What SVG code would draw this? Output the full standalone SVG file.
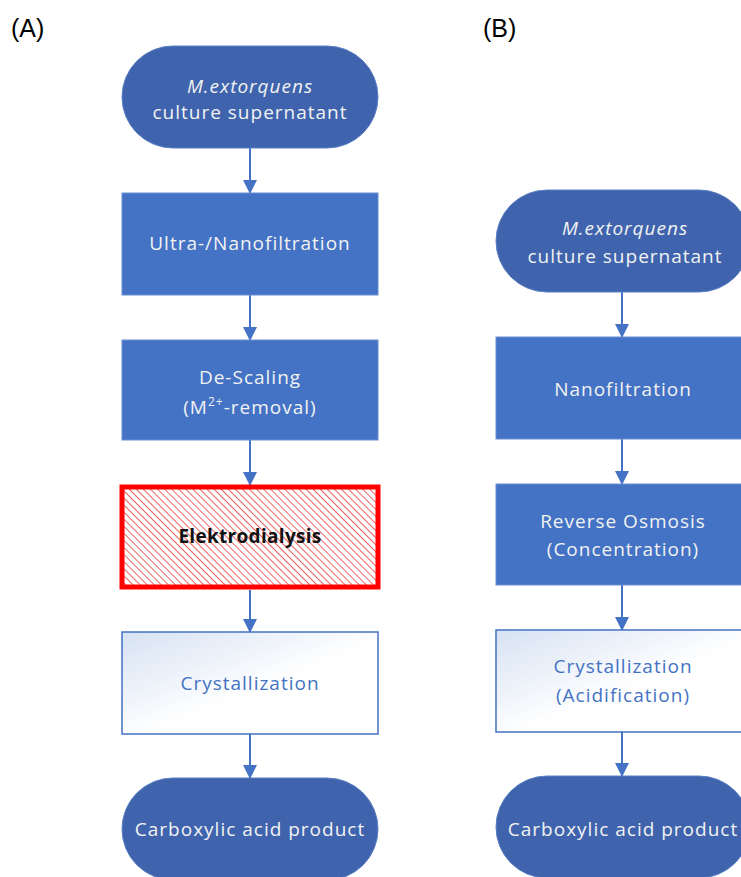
<svg xmlns="http://www.w3.org/2000/svg" width="741" height="877" viewBox="0 0 741 877">
<style>
.term{fill:#3F64AD;stroke:#5B7FC4;stroke-width:1}
.proc{fill:#4472C4;stroke:#6A8FD3;stroke-width:1}
.light{fill:url(#lg);stroke:#4472C4;stroke-width:1.5}
.t{font-family:"Open Sans","Noto Sans",sans-serif;font-size:19px;letter-spacing:1px;fill:#F2F2F2;text-anchor:middle}
.tb{font-family:"Open Sans","Noto Sans",sans-serif;font-size:19px;letter-spacing:1px;fill:#4472C4;text-anchor:middle}
.lab{font-family:"Liberation Sans",Arial,sans-serif;font-size:25px;fill:#000}
.c line{stroke:#4472C4;stroke-width:2}
</style>
<defs>
<linearGradient id="lg" x1="0" y1="0" x2="1" y2="1">
<stop offset="0" stop-color="#D6E2F3"/>
<stop offset="0.55" stop-color="#FFFFFF"/>
<stop offset="1" stop-color="#FFFFFF"/>
</linearGradient>
<pattern id="hatch" patternUnits="userSpaceOnUse" width="5" height="5" patternTransform="rotate(-45)">
<rect width="5" height="5" fill="#FFFFFF"/>
<line x1="0" y1="0" x2="0" y2="5" stroke="#E83030" stroke-width="1.5"/>
</pattern>
<marker id="ah" markerWidth="14" markerHeight="14" refX="13" refY="7" orient="auto" markerUnits="userSpaceOnUse">
<path d="M0,0 L14,7 L0,14 Z" fill="#4472C4"/>
</marker>
</defs>
<rect width="741" height="877" fill="#FFFFFF"/>
<text class="lab" x="11" y="37">(A)</text>
<text class="lab" x="483" y="37">(B)</text>
<g class="c" id="connectors">
<line x1="250" y1="148" x2="250" y2="193" marker-end="url(#ah)"/>
<line x1="250" y1="295" x2="250" y2="340" marker-end="url(#ah)"/>
<line x1="250" y1="440" x2="250" y2="485" marker-end="url(#ah)"/>
<line x1="250" y1="590" x2="250" y2="632" marker-end="url(#ah)"/>
<line x1="250" y1="734" x2="250" y2="778" marker-end="url(#ah)"/>
<line x1="622" y1="292" x2="622" y2="337" marker-end="url(#ah)"/>
<line x1="622" y1="439" x2="622" y2="484" marker-end="url(#ah)"/>
<line x1="622" y1="585" x2="622" y2="630" marker-end="url(#ah)"/>
<line x1="622" y1="732" x2="622" y2="776" marker-end="url(#ah)"/>
</g>
<g id="a1">
<rect class="term" x="122" y="46" width="256" height="102" rx="51"/>
<text class="t" x="250" y="93" font-style="italic" letter-spacing="1.5">M.extorquens</text>
<text class="t" x="250" y="119">culture supernatant</text>
</g>
<g id="a2">
<rect class="proc" x="122" y="193" width="256" height="102"/>
<text class="t" x="250" y="250">Ultra-/Nanofiltration</text>
</g>
<g id="a3">
<rect class="proc" x="122" y="340" width="256" height="100"/>
<text class="t" x="250" y="384">De-Scaling</text>
<text class="t" x="250" y="414">(M<tspan font-size="12" dy="-8">2+</tspan><tspan dy="8">-removal)</tspan></text>
</g>
<g id="a4">
<rect x="122" y="487" width="256" height="100" fill="url(#hatch)" stroke="#FF0000" stroke-width="5"/>
<text x="250" y="543" font-family="'Open Sans','Noto Sans',sans-serif" font-size="19" letter-spacing="0.3" font-weight="bold" fill="#111111" text-anchor="middle">Elektrodialysis</text>
</g>
<g id="a5">
<rect class="light" x="122" y="632" width="256" height="102"/>
<text class="tb" x="250" y="690">Crystallization</text>
</g>
<g id="a6">
<rect class="term" x="122" y="778" width="256" height="102" rx="51"/>
<text class="t" x="250" y="836">Carboxylic acid product</text>
</g>
<g id="b1">
<rect class="term" x="496" y="190" width="254" height="102" rx="51"/>
<text class="t" x="625" y="235" font-style="italic" letter-spacing="1.5">M.extorquens</text>
<text class="t" x="625" y="263">culture supernatant</text>
</g>
<g id="b2">
<rect class="proc" x="496" y="337" width="254" height="102"/>
<text class="t" x="623" y="396">Nanofiltration</text>
</g>
<g id="b3">
<rect class="proc" x="496" y="484" width="254" height="101"/>
<text class="t" x="623" y="528">Reverse Osmosis</text>
<text class="t" x="623" y="556">(Concentration)</text>
</g>
<g id="b4">
<rect class="light" x="496" y="630" width="254" height="102"/>
<text class="tb" x="623" y="673">Crystallization</text>
<text class="tb" x="623" y="702">(Acidification)</text>
</g>
<g id="b5">
<rect class="term" x="496" y="776" width="254" height="102" rx="51"/>
<text class="t" x="623" y="836">Carboxylic acid product</text>
</g>
</svg>
